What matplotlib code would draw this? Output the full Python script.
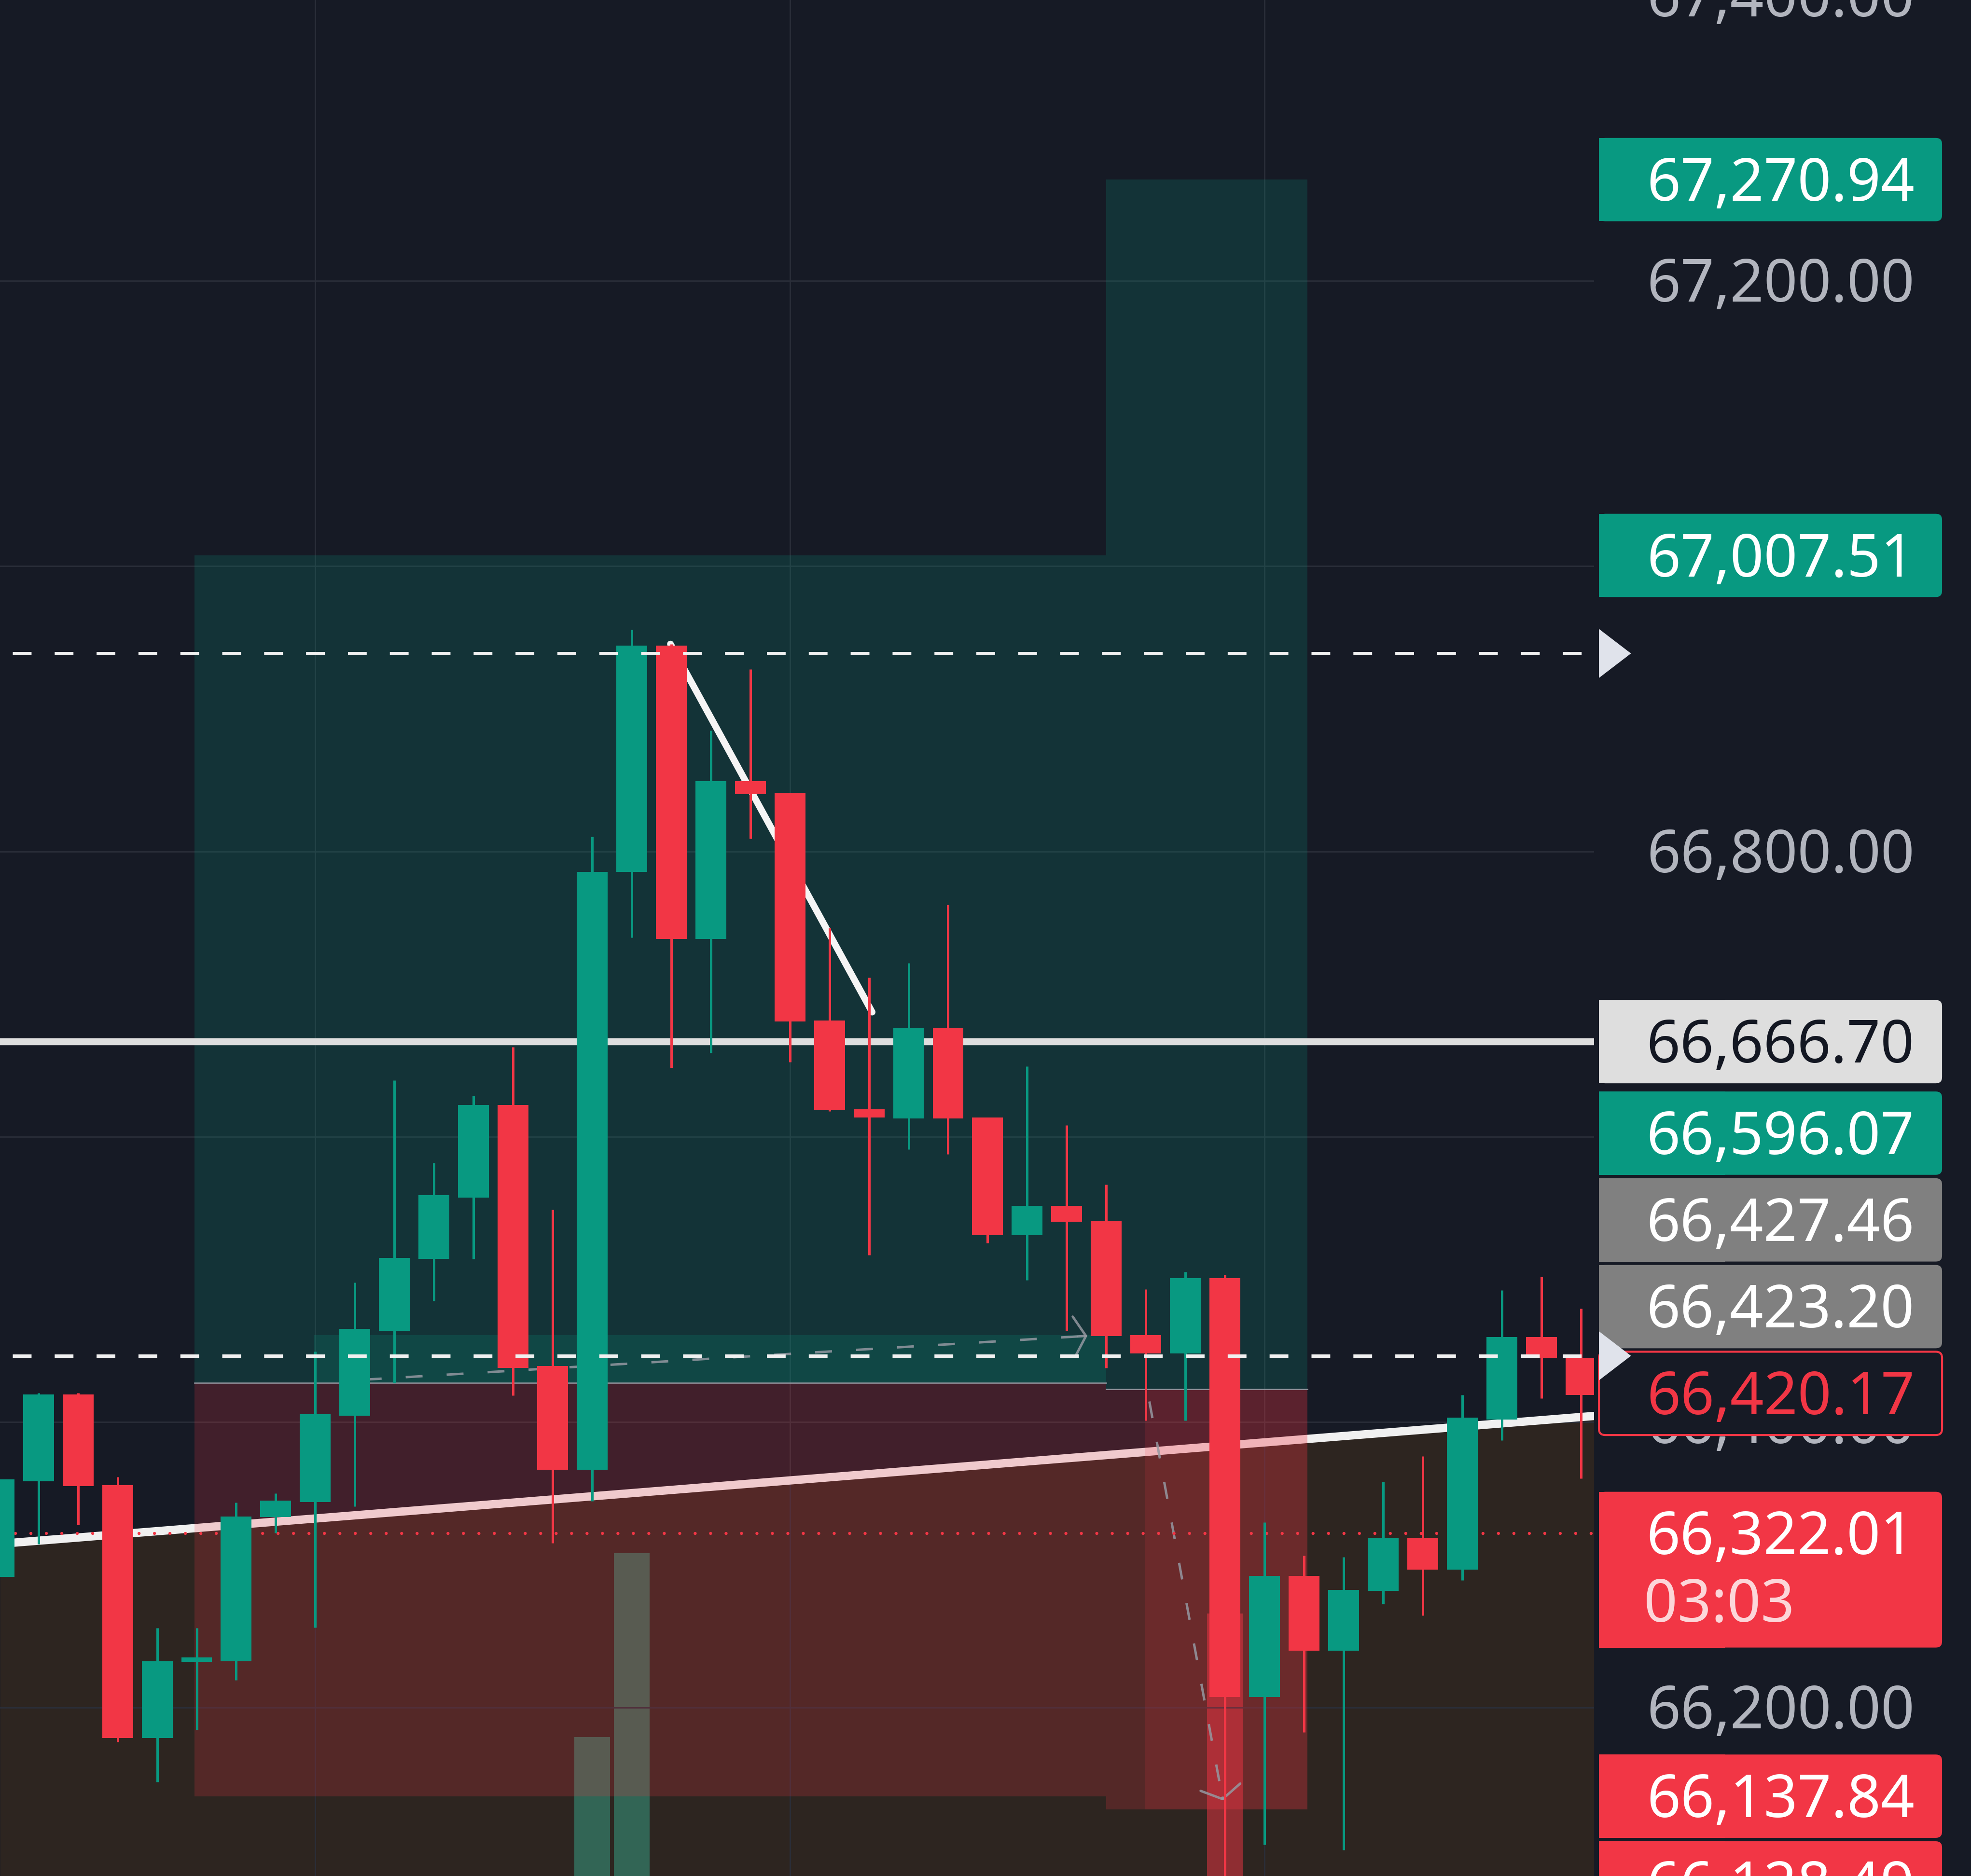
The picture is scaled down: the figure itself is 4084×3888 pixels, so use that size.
import matplotlib.pyplot as plt
import matplotlib.transforms as mtransforms
from matplotlib.patches import Rectangle, FancyBboxPatch, Polygon

plt.rcParams['font.family'] = ['Noto Sans', 'DejaVu Sans']

# candles, oldest first (prices)
opens = [66291.5, 66358.6, 66419.5, 66355.8, 66178.5, 66232.0, 66232.5, 66333.5, 66343.9, 66404.4,
         66463.9, 66514.3, 66557.5, 66622.3, 66439.5, 66366.6, 66785.7, 66944.2, 66738.6, 66849.2,
         66841.0, 66681.6, 66619.3, 66612.8, 66676.3, 66613.6, 66530.9, 66551.8, 66541.0, 66460.9,
         66448.3, 66501.0, 66207.4, 66292.1, 66239.8, 66281.7, 66319.0, 66296.6, 66401.9, 66459.5,
         66444.7]
highs = [66399.8, 66420.6, 66420.6, 66361.6, 66255.6, 66255.6, 66343.5, 66350.1, 66449.6, 66497.8,
         66639.7, 66581.8, 66628.8, 66662.8, 66549.0, 66810.3, 66955.3, 66945.4, 66884.9, 66927.8,
         66841.0, 66746.3, 66711.5, 66721.7, 66762.7, 66613.6, 66649.3, 66608.0, 66566.7, 66493.2,
         66505.4, 66503.2, 66329.8, 66306.4, 66305.5, 66358.2, 66376.2, 66419.0, 66492.3, 66501.8,
         66479.7]
lows = [66270.4, 66314.6, 66328.2, 66176.0, 66147.7, 66184.3, 66219.3, 66322.3, 66256.0, 66340.8,
        66427.6, 66485.0, 66514.3, 66418.7, 66315.3, 66344.7, 66739.8, 66648.5, 66658.7, 66809.0,
        66652.5, 66618.0, 66517.3, 66591.1, 66587.8, 66525.5, 66499.7, 66464.0, 66437.9, 66401.0,
        66401.0, 66060.0, 66103.9, 66182.6, 66100.3, 66272.7, 66264.6, 66289.3, 66387.4, 66416.8,
        66360.5]
closes = [66359.8, 66419.5, 66355.1, 66178.5, 66232.5, 66235.0, 66333.9, 66345.1, 66405.6, 66465.4,
          66515.2, 66559.1, 66622.3, 66438.0, 66366.6, 66785.7, 66944.2, 66738.6, 66849.2, 66840.2,
          66680.8, 66618.5, 66613.6, 66676.3, 66612.8, 66530.9, 66551.8, 66540.5, 66460.4, 66448.3,
          66501.0, 66207.4, 66292.1, 66239.8, 66282.5, 66319.0, 66296.6, 66403.2, 66459.5, 66444.7,
          66419.0]

# volume bars that reach into the visible area (bar index, relative height)
vol_idx = [15, 16, 31]
vol_vals = [7.4, 17.2, 14.0]

# long position tools
pos_start = [4.95, 28.0]
pos_end = [28.0, 33.08]
pos_entry = [66427.46, 66423.20]
pos_tp = [67007.51, 67270.94]
pos_sl = [66137.84, 66128.49]
# filled part of each trade
run_start = [7.97, 28.98]
run_from = [66427.46, 66423.20]
run_to = [66461.0, 66128.49]
path_x = [[9.25, 27.59], [29.09, 30.96]]
path_y = [[66429.8, 66460.6], [66414.5, 66133.0]]

trend_x = [0, 40]
trend_y = [66314.7, 66403.6]
diag_x = [16.98, 22.08]
diag_y = [66945.4, 66687.4]
alert_price = 66666.70
dashed_prices = [66938.8, 66446.5]
last_price = 66322.01
countdown = '03:03'

tick_prices = [67400, 67200, 67000, 66800, 66600, 66400, 66200]
label_prices = [67270.94, 67007.51, 66666.70, 66596.07, 66427.46, 66423.20,
                66420.17, 66322.01, 66137.84, 66128.49]

BG = '#161a25'
UP = '#089981'
DN = '#f23645'

fig = plt.figure(figsize=(20.42, 19.44), dpi=200, facecolor=BG)
ax = fig.add_axes([0, 0, 1268 / 1568, 1])
ax.set_facecolor(BG)
xmin, xmax = 0.027, 40.33
ymin, ymax = 66081.9, 67396.8
for s in ax.spines.values():
    s.set_visible(False)
ax.set_xticks([8, 20, 32])
ax.set_yticks(tick_prices)
ax.tick_params(length=0, labelleft=False, labelbottom=False)
ax.set_axisbelow(False)
ax.grid(True, color='#2a2e39', lw=1.0)

# area under the trend line
slope = (trend_y[1] - trend_y[0]) / (trend_x[1] - trend_x[0])
tl = [trend_y[0] + slope * (x - trend_x[0]) for x in (xmin, xmax)]
ax.fill_between([xmin, xmax], tl, [ymin - 200, ymin - 200], color='#2d2520', lw=0, zorder=1)
ax.plot([xmin, xmax], tl, color='#f0f0f0', lw=6.2, zorder=2.6)

# volume overlay
vax = fig.add_axes(ax.get_position(), frameon=False)
vax.set_axis_off()
vax.set_xlim(xmin, xmax)
vax.set_ylim(0, 100)
vtr = mtransforms.blended_transform_factory(ax.transData, vax.transData)
for i, v in zip(vol_idx, vol_vals):
    up = closes[i] >= opens[i]
    ax.add_patch(Rectangle((i - 0.45, 0), 0.9, v, transform=vtr, lw=0, zorder=1.5,
                           facecolor='#38a58a' if up else DN, alpha=0.5))

# position tools
for s, e, en, tp, sl in zip(pos_start, pos_end, pos_entry, pos_tp, pos_sl):
    ax.add_patch(Rectangle((s, en), e - s, tp - en, facecolor=UP, alpha=0.2, lw=0, zorder=3))
    ax.add_patch(Rectangle((s, sl), e - s, en - sl, facecolor=DN, alpha=0.2, lw=0, zorder=3))
    ax.plot([s, e], [en, en], color='#9598a1', lw=0.9, zorder=3.2)
for s, e, a, b in zip(run_start, pos_end, run_from, run_to):
    col = UP if b > a else DN
    ax.add_patch(Rectangle((s, min(a, b)), e - s, abs(b - a), facecolor=col,
                           alpha=0.2 if b > a else 0.15, lw=0, zorder=3.1))
for px, py in zip(path_x, path_y):
    ax.plot(px, py, color='#9598a1', lw=1.8, dashes=(7, 10), alpha=0.85, zorder=3.5)
    ax.annotate('', xy=(px[1], py[1]),
                xytext=(px[1] - (px[1] - px[0]) * 0.02, py[1] - (py[1] - py[0]) * 0.02),
                arrowprops=dict(arrowstyle='->,head_length=0.45,head_width=0.75',
                                color='#9598a1', lw=1.8, mutation_scale=20, alpha=0.85),
                zorder=3.5)

ax.axhline(alert_price, color='#dedede', lw=5.2, zorder=4)
ax.plot(diag_x, diag_y, color='#f5f5f5', lw=5, solid_capstyle='round', zorder=4)
ax.axhline(last_price, color=DN, lw=2.3, linestyle=(0, (0.01, 5.0)),
           dash_capstyle='round', zorder=4.5)

# candles
xs = list(range(len(opens)))
cols = [UP if c >= o else DN for o, c in zip(opens, closes)]
ax.vlines(xs, lows, highs, colors=cols, lw=1.8, zorder=5)
bottoms = [min(o, c) for o, c in zip(opens, closes)]
heights = [max(abs(c - o), 1.8) for o, c in zip(opens, closes)]
ax.bar(xs, heights, bottom=bottoms, width=0.78, color=cols, lw=0, zorder=5.1)

for p in dashed_prices:
    ax.plot([0.345, xmax], [p, p], color='#f0f0f0', lw=2.5, dashes=(5.6, 6.9), zorder=6)

ax.set_xlim(xmin, xmax)
ax.set_ylim(ymin, ymax)

# price scale
lab = fig.add_axes([1268 / 1568, 0, 300 / 1568, 1])
lab.set_axis_off()
lab.set_xlim(0, 300)
lab.set_ylim(ymin, ymax)
FS = 44
cap = 14.7

styles = {67270.94: (UP, 'white'), 67007.51: (UP, 'white'), 66666.70: ('#dedede', '#131722'),
          66596.07: (UP, 'white'), 66427.46: ('#808080', 'white'), 66423.20: ('#808080', 'white'),
          66420.17: (None, DN), 66322.01: (DN, 'white'), 66137.84: (DN, 'white'),
          66128.49: (DN, 'white')}
anchor = label_prices.index(66420.17)
cur = label_prices.index(last_price)
up_ext = [30.4] * len(label_prices)
dn_ext = [30.4] * len(label_prices)
dn_ext[cur] = 81.1
centers = list(label_prices)
for i in range(anchor - 1, -1, -1):
    centers[i] = max(centers[i], centers[i + 1] + up_ext[i + 1] + dn_ext[i])
for i in range(anchor + 1, len(centers)):
    centers[i] = min(centers[i], centers[i - 1] - dn_ext[i - 1] - up_ext[i])

# scale ticks that sit right under a label are hidden
for p in tick_prices:
    if any(abs(p - c) < 15 for c in centers):
        continue
    lab.text(255, p - cap, f'{p:,.2f}', ha='right', va='baseline', fontsize=FS,
             color='#b2b5be', zorder=1)

for i, (p, c) in enumerate(zip(label_prices, centers)):
    fc, tc = styles[p]
    top = c + 29.2
    bot = c - (80.0 if i == cur else 29.2)
    if fc is None:
        lab.add_patch(FancyBboxPatch((4, bot), 273, top - bot, boxstyle='round,pad=0,rounding_size=5',
                                     mutation_aspect=0.88, fc=BG, ec=DN, lw=1.5, zorder=3))
    else:
        lab.add_patch(FancyBboxPatch((4, bot), 273, top - bot, boxstyle='round,pad=0,rounding_size=5',
                                     mutation_aspect=0.88, fc=fc, ec='none', zorder=3))
        lab.add_patch(Rectangle((4, bot), 100, top - bot, fc=fc, ec='none', zorder=3))
    lab.text(255, c - cap, f'{p:,.2f}', ha='right', va='baseline', fontsize=FS, color=tc, zorder=4)
    if i == cur:
        lab.text(39.5, c - 61.9, countdown, ha='left', va='baseline', fontsize=FS,
                 color='white', alpha=0.8, zorder=4)

for p in dashed_prices:
    lab.add_patch(Polygon([(4, p + 17.2), (4, p - 17.2), (29.5, p)], closed=True,
                          fc='#e0e3eb', ec='none', zorder=5))

fig.savefig('out.png', dpi=200, facecolor=BG)
